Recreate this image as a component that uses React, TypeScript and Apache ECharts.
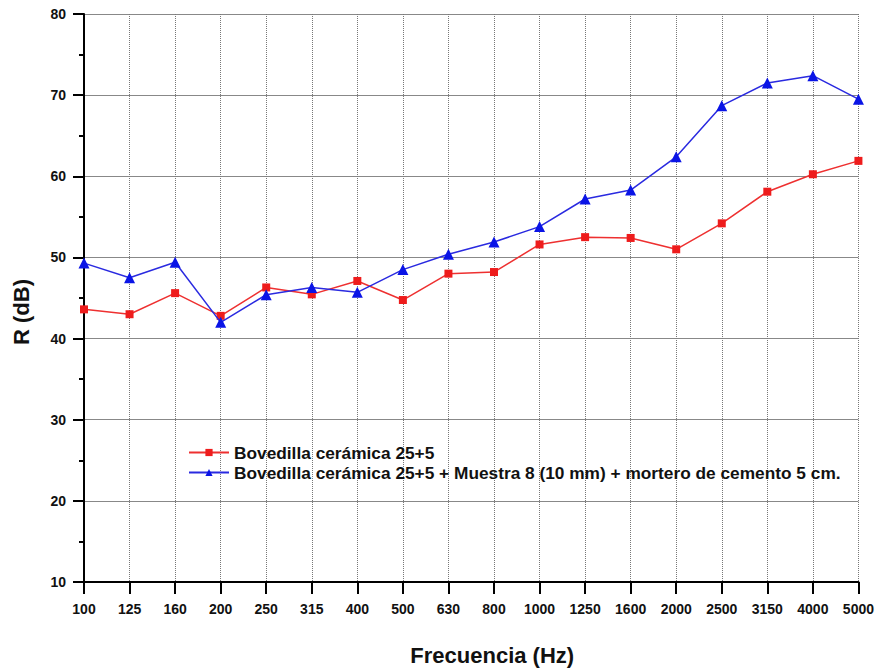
import React, { useEffect, useRef } from "react";
import * as echarts from "echarts";

const categories = ["100", "125", "160", "200", "250", "315", "400", "500", "630", "800", "1000", "1250", "1600", "2000", "2500", "3150", "4000", "5000"];
const seriesRedName = "Bovedilla cerámica 25+5";
const seriesBlueName = "Bovedilla cerámica 25+5 + Muestra 8 (10 mm) + mortero de cemento 5 cm.";
const redValues = [43.6, 43.0, 45.6, 42.8, 46.3, 45.45, 47.1, 44.75, 48.0, 48.2, 51.6, 52.5, 52.4, 51.0, 54.2, 58.1, 60.25, 61.9];
const blueValues = [49.3, 47.5, 49.4, 42.0, 45.4, 46.3, 45.7, 48.5, 50.4, 51.9, 53.8, 57.2, 58.3, 62.4, 68.7, 71.5, 72.4, 69.5];

const FONT = "Liberation Sans, Arial, sans-serif";

export default function App() {
  const ref = useRef<HTMLDivElement>(null);
  useEffect(() => {
    if (!ref.current) return;
    const chart = echarts.init(ref.current, undefined, { renderer: "svg" });
    chart.setOption({
      animation: false,
      backgroundColor: "#ffffff",
      textStyle: { fontFamily: FONT },
      grid: { left: 84, right: 18, top: 14, bottom: 90, containLabel: false },
      legend: {
        orient: "vertical",
        left: 183,
        top: 439,
        itemGap: 3,
        itemWidth: 40,
        itemHeight: 9,
        textStyle: { fontFamily: FONT, fontWeight: "bold", fontSize: 17.3, color: "#111" },
        data: [seriesRedName, seriesBlueName],
      },
      xAxis: {
        type: "category",
        data: categories,
        boundaryGap: false,
        name: "Frecuencia (Hz)",
        nameLocation: "middle",
        nameGap: 62,
        nameTextStyle: { fontFamily: FONT, fontWeight: "bold", fontSize: 22, color: "#111", padding: [0, 0, 0, 42] },
        axisLine: { lineStyle: { color: "#000", width: 2 } },
        axisTick: { show: true, alignWithLabel: true, length: 12, lineStyle: { color: "#000", width: 2 } },
        axisLabel: { fontFamily: FONT, fontWeight: "bold", fontSize: 14, color: "#111", margin: 20, interval: 0 },
        splitLine: { show: true, lineStyle: { color: "#777", type: [1, 1], width: 1 } },
      },
      yAxis: {
        type: "value",
        min: 10,
        max: 80,
        interval: 10,
        name: "R (dB)",
        nameLocation: "middle",
        nameGap: 52,
        nameRotate: 90,
        nameTextStyle: { fontFamily: FONT, fontWeight: "bold", fontSize: 22, color: "#111", padding: [0, 28, 0, 0] },
        axisLine: { show: true, lineStyle: { color: "#000", width: 2 } },
        axisTick: { show: true, length: 11, lineStyle: { color: "#000", width: 2 } },
        minorTick: { show: true, splitNumber: 2, length: 5, lineStyle: { color: "#000", width: 2 } },
        axisLabel: { fontFamily: FONT, fontWeight: "bold", fontSize: 14, color: "#111", margin: 18 },
        splitLine: { show: true, lineStyle: { color: "#888", width: 1 } },
      },
      series: [
        {
          name: seriesRedName,
          type: "line",
          data: redValues,
          symbol: "rect",
          symbolSize: 8,
          itemStyle: { color: "#ee1c1c" },
          lineStyle: { color: "#ee3030", width: 1.5 },
          z: 3,
        },
        {
          name: seriesBlueName,
          type: "line",
          data: blueValues,
          symbol: "triangle",
          symbolSize: 11,
          itemStyle: { color: "#0a14e6" },
          lineStyle: { color: "#2a2ae0", width: 1.5 },
          z: 4,
        },
      ],
    });
    return () => chart.dispose();
  }, []);
  return <div ref={ref} style={{ width: 877, height: 672, position: "absolute", left: 0, top: 0 }} />;
}
